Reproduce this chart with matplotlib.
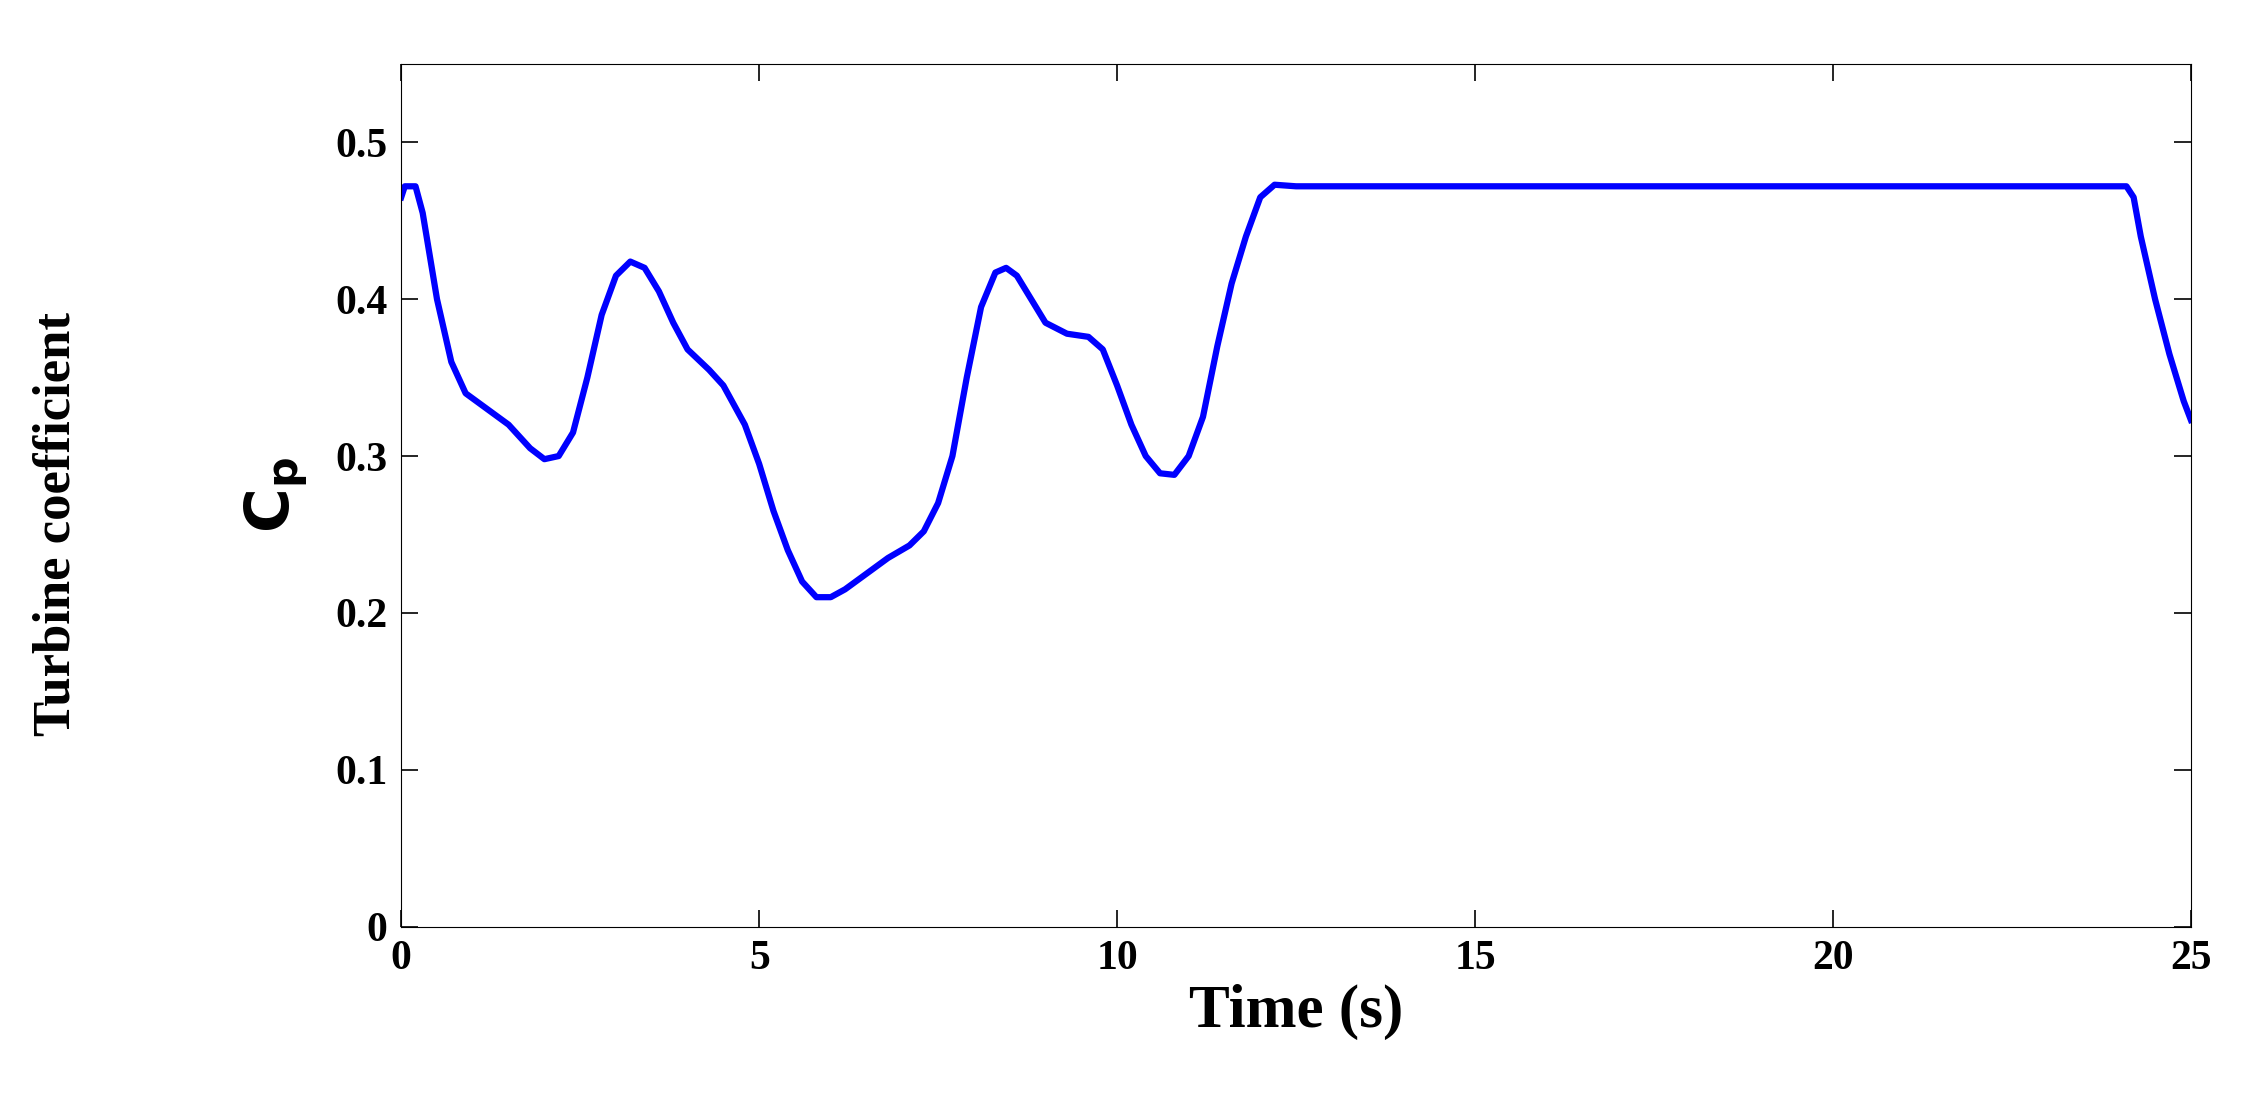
import numpy as np
import matplotlib.pyplot as plt

# values
time_s = [0, 0.05, 0.2, 0.3, 0.5, 0.7, 0.9, 1.2, 1.5, 1.8, 2.0, 2.2, 2.4, 2.6, 2.8,
          3.0, 3.2, 3.4, 3.6, 3.8, 4.0, 4.3, 4.5, 4.8, 5.0, 5.2, 5.4, 5.6, 5.8, 6.0,
          6.2, 6.5, 6.8, 7.1, 7.3, 7.5, 7.7, 7.9, 8.1, 8.3, 8.45, 8.6, 8.8, 9.0, 9.3,
          9.6, 9.8, 10.0, 10.2, 10.4, 10.6, 10.8, 11.0, 11.2, 11.4, 11.6, 11.8, 12.0,
          12.2, 12.5, 13.0, 24.1, 24.2, 24.3, 24.5, 24.7, 24.9, 25.0]
cp = [0.465, 0.472, 0.472, 0.455, 0.40, 0.36, 0.34, 0.33, 0.32, 0.305, 0.298, 0.30,
      0.315, 0.35, 0.39, 0.415, 0.424, 0.42, 0.405, 0.385, 0.368, 0.355, 0.345, 0.32,
      0.295, 0.265, 0.24, 0.22, 0.21, 0.21, 0.215, 0.225, 0.235, 0.243, 0.252, 0.27,
      0.30, 0.35, 0.395, 0.417, 0.42, 0.415, 0.40, 0.385, 0.378, 0.376, 0.368, 0.345,
      0.32, 0.30, 0.289, 0.288, 0.30, 0.325, 0.37, 0.41, 0.44, 0.465, 0.473, 0.472,
      0.472, 0.472, 0.465, 0.44, 0.40, 0.365, 0.335, 0.323]

plt.rcParams['font.family'] = ['Liberation Serif', 'DejaVu Serif']
plt.rcParams['font.weight'] = 'bold'

fig = plt.figure(figsize=(22.54, 11.03), dpi=100)
ax = fig.add_axes([0.178, 0.160, 0.794, 0.782])
ax.plot(time_s, cp, color='#0000ff', linewidth=4.5)
ax.set_xlim(0, 25)
ax.set_ylim(0, 0.55)
ax.set_xticks([0, 5, 10, 15, 20, 25])
ax.set_yticks([0, 0.1, 0.2, 0.3, 0.4, 0.5])
ax.set_yticklabels(['0', '0.1', '0.2', '0.3', '0.4', '0.5'])
ax.tick_params(direction='in', length=12, width=1.2, labelsize=30,
               top=True, right=True, pad=10)
for lab in ax.get_xticklabels() + ax.get_yticklabels():
    lab.set_fontweight('bold')
ax.set_xlabel('Time (s)', fontsize=44, fontweight='bold', labelpad=4)
ax.set_ylabel(r'$\mathbf{C_p}$', fontsize=44, labelpad=18)
fig.text(0.025, 0.525, 'Turbine coefficient', rotation=90, fontsize=38,
         fontweight='bold', ha='center', va='center')

fig.savefig('out.png', dpi=100)
